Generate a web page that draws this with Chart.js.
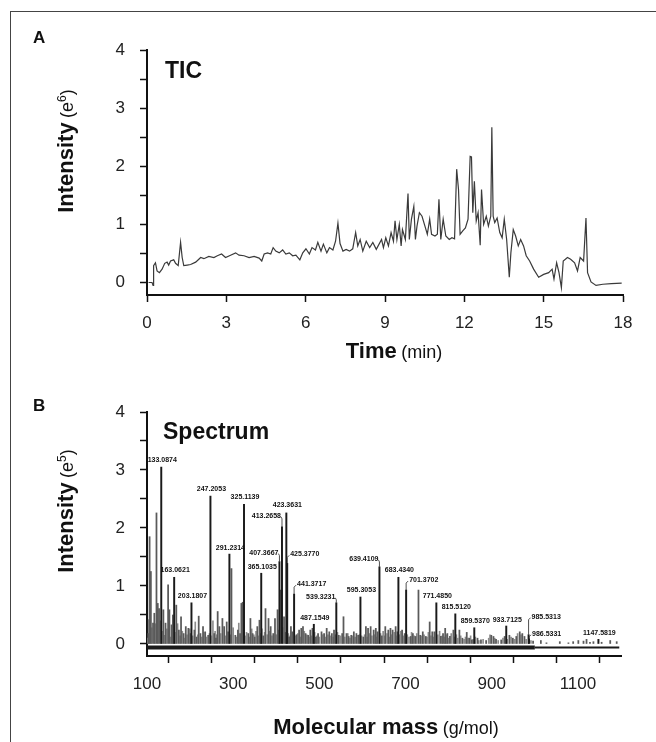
<!DOCTYPE html>
<html>
<head>
<meta charset="utf-8">
<script src="https://cdn.jsdelivr.net/npm/chart.js@4.4.0/dist/chart.umd.min.js"></script>
<style>
  html, body { margin: 0; padding: 0; background: #fff; }
  body { width: 656px; height: 742px; position: relative; overflow: hidden;
         font-family: "Liberation Sans", Arial, sans-serif; color: #111; }
  .frame { position: absolute; left: 10px; top: 11px; width: 660px; height: 740px;
           border-left: 1.5px solid #444; border-top: 1.5px solid #444; }
  canvas { position: absolute; left: 0; }
  #ticChart { top: 0; }
  #specChart { top: 370px; }
  .txt { position: absolute; white-space: nowrap; line-height: 1; }
  .panel { font-weight: bold; font-size: 17px; transform: translateY(-50%); }
  .inset { font-weight: bold; font-size: 23px; transform: translateY(-50%); }
  .xtitle { transform: translate(-50%, -50%); }
  .ytitle { transform: translate(-50%, -50%) rotate(-90deg); }
  .big { font-weight: bold; font-size: 22px; }
  .unit { font-size: 18px; }
  sup { font-size: 12px; vertical-align: 7px; }
</style>
</head>
<body>
<div class="frame"></div>
<canvas id="ticChart" width="656" height="370"></canvas>
<canvas id="specChart" width="656" height="372"></canvas>

<div class="txt panel" style="left:33px; top:37px;">A</div>
<div class="txt panel" style="left:33px; top:405px;">B</div>
<div class="txt inset" style="left:165px; top:70px;">TIC</div>
<div class="txt inset" style="left:163px; top:431px;">Spectrum</div>
<div class="txt xtitle" style="left:394px; top:351px;"><span class="big">Time</span> <span class="unit">(min)</span></div>
<div class="txt xtitle" style="left:386px; top:727px;"><span class="big">Molecular mass</span> <span class="unit">(g/mol)</span></div>
<div class="txt ytitle" style="left:66px; top:151px;"><span class="big">Intensity</span> <span class="unit">(e<sup>6</sup>)</span></div>
<div class="txt ytitle" style="left:66px; top:511px;"><span class="big">Intensity</span> <span class="unit">(e<sup>5</sup>)</span></div>

<script>
Chart.defaults.font.family = '"Liberation Sans", Arial, sans-serif';
Chart.defaults.color = '#222';

// ---- Panel A: total ion chromatogram (time in min, intensity in e6) ----
const ticTime = [
  0.06, 0.19, 0.23, 0.25, 0.32, 0.38, 0.47, 0.57, 0.67, 0.76, 0.82, 0.89, 1.01, 1.08, 1.18, 1.27, 1.33, 1.39,
  1.52, 1.65, 1.84, 1.96, 2.03, 2.15, 2.34, 2.53, 2.66, 2.82, 2.97, 3.16, 3.35, 3.48, 3.67, 3.86, 4.05, 4.24, 4.34,
  4.43, 4.56, 4.68, 4.77, 4.87, 5.00, 5.13, 5.25, 5.38, 5.51, 5.63, 5.78, 5.89, 6.01, 6.14, 6.24, 6.37, 6.46, 6.58, 6.67, 6.80, 6.90,
  7.03, 7.13, 7.22, 7.30, 7.41, 7.53, 7.66, 7.78, 7.89, 7.97, 8.06, 8.16, 8.29, 8.42, 8.54, 8.67,
  8.87, 8.94, 9.03, 9.13, 9.23, 9.32, 9.38, 9.45, 9.54, 9.61, 9.66, 9.77, 9.87, 9.92, 10.00, 10.09, 10.15,
  10.21, 10.30, 10.40, 10.51, 10.60, 10.69, 10.76, 10.89, 10.98, 11.04, 11.11, 11.20, 11.30, 11.43, 11.53, 11.63,
  11.71, 11.78, 11.84, 11.94, 12.04, 12.14, 12.22, 12.27, 12.32, 12.38, 12.45, 12.52, 12.60, 12.65, 12.73, 12.83, 12.91, 13.00, 13.04,
  13.09, 13.15, 13.24, 13.34, 13.43, 13.51, 13.60, 13.70, 13.76, 13.85, 13.94, 14.04, 14.13, 14.24, 14.34, 14.47,
  14.62, 14.81, 15.00, 15.19, 15.32, 15.39, 15.49, 15.58, 15.67, 15.74, 15.90, 16.02, 16.17, 16.28, 16.38, 16.51, 16.60, 16.66, 16.79, 16.98, 17.24, 17.56, 17.95
];
const ticIntensity = [
  0.00, 0.00, -0.05, 0.29, 0.34, 0.20, 0.17, 0.23, 0.33, 0.35, 0.30, 0.37, 0.39, 0.33, 0.29, 0.69, 0.43, 0.29,
  0.30, 0.31, 0.35, 0.40, 0.43, 0.41, 0.45, 0.43, 0.46, 0.49, 0.43, 0.47, 0.51, 0.47, 0.46, 0.43, 0.45, 0.42, 0.37,
  0.49, 0.51, 0.49, 0.60, 0.54, 0.51, 0.56, 0.49, 0.51, 0.46, 0.47, 0.39, 0.51, 0.58, 0.49, 0.60, 0.56, 0.69, 0.54, 0.66, 0.51, 0.60,
  0.56, 0.71, 1.02, 0.67, 0.54, 0.57, 0.54, 0.58, 0.86, 0.63, 0.74, 0.54, 0.71, 0.60, 0.69, 0.57,
  0.74, 0.60, 0.77, 0.63, 0.86, 0.71, 1.06, 0.74, 1.00, 0.63, 0.91, 0.74, 1.53, 0.74, 1.09, 1.31, 0.74,
  0.97, 1.20, 1.14, 0.97, 0.83, 1.09, 0.83, 0.80, 0.83, 1.43, 0.74, 1.09, 0.80, 0.74, 0.77, 0.75,
  1.95, 1.60, 0.83, 0.89, 0.94, 1.09, 2.17, 2.16, 1.20, 1.74, 1.06, 1.20, 0.64, 1.60, 1.00, 1.14, 0.97, 1.14, 2.67,
  1.14, 1.03, 1.11, 0.86, 0.77, 1.09, 0.74, 0.09, 0.51, 0.91, 0.80, 0.63, 0.74, 0.63, 0.46, 0.37,
  0.23, 0.09, 0.14, 0.17, 0.23, 0.06, 0.34, 0.17, -0.09, 0.37, 0.43, 0.40, 0.34, 0.20, 0.43, 0.37, 1.11, 0.17, 0.01, -0.05, -0.03, -0.02, -0.01
];
const timeTicks = [0, 3, 6, 9, 12, 15, 18];
const intensityTicks = [0, 0.5, 1, 1.5, 2, 2.5, 3, 3.5, 4];
const intensityLabels = [0, 1, 2, 3, 4];

// ---- Panel B: mass spectrum (m/z, intensity in e5) ----
const peakMz = [133.0874, 163.0621, 203.1807, 247.2053, 291.2314, 325.1139, 365.1035, 407.3667, 413.2658,
  423.3631, 425.3770, 441.3717, 487.1549, 539.3231, 595.3053, 639.4109, 683.4340, 701.3702, 771.4850,
  815.5120, 859.5370, 933.7125, 985.5313, 986.5331, 1147.5819];
const peakIntensity = [3.05, 1.15, 0.71, 2.55, 1.55, 2.41, 1.22, 1.42, 2.02,
  2.26, 1.39, 0.86, 0.34, 0.71, 0.81, 1.33, 1.15, 0.93, 0.71,
  0.52, 0.28, 0.31, 0.16, 0.09, 0.08];

// unlabelled sticks, darker ones
const minorMz = [103, 106, 109, 114, 117, 122, 125, 128, 138, 143, 149, 152, 157, 160, 168, 174, 179, 185, 190, 196,
  201, 210, 215, 220, 224, 230, 235, 242, 256, 260, 264, 268, 275, 279, 285, 288, 296, 305, 311, 316, 319, 322,
  335, 340, 345, 350, 356, 361, 370, 375, 382, 387, 393, 397, 403, 410, 418, 430, 434, 437, 447, 453, 458, 462,
  468, 474, 479, 484, 492, 497, 505, 511, 517, 523, 529, 534, 545, 553, 556, 563, 568, 574, 580, 586, 590, 602,
  608, 613, 619, 626, 631, 635, 645, 653, 660, 665, 670, 677, 681, 692, 698, 712, 717, 723, 730, 734, 740, 747,
  756, 762, 767, 782, 787, 792, 797, 803, 811, 825, 832, 842, 848, 854, 867, 875, 887, 899, 904, 910, 922, 930,
  941, 949, 957, 965, 971, 976, 996, 1014, 1027, 1058, 1078, 1089, 1101, 1113, 1120, 1128, 1136, 1155, 1175, 1190];
const minorIntensity = [0.18, 1.85, 1.25, 0.36, 0.53, 2.26, 0.70, 0.61, 0.59, 0.36, 1.02, 0.59, 0.33, 0.50, 0.67, 0.24, 0.47, 0.18, 0.30, 0.27,
  0.18, 0.24, 0.12, 0.48, 0.18, 0.30, 0.21, 0.15, 0.18, 0.10, 0.56, 0.30, 0.44, 0.30, 0.38, 0.21, 1.30, 0.15, 0.24, 0.18, 0.70, 0.72,
  0.18, 0.44, 0.18, 0.12, 0.30, 0.41, 0.14, 0.61, 0.44, 0.30, 0.18, 0.44, 0.59, 0.93, 0.47, 0.12, 0.30, 0.21, 0.16, 0.24, 0.27, 0.30,
  0.18, 0.15, 0.24, 0.27, 0.12, 0.18, 0.21, 0.18, 0.27, 0.21, 0.18, 0.24, 0.15, 0.18, 0.47, 0.18, 0.13, 0.15, 0.21, 0.18, 0.15, 0.12,
  0.30, 0.27, 0.30, 0.24, 0.27, 0.21, 0.14, 0.30, 0.24, 0.27, 0.24, 0.30, 0.21, 0.24, 0.18, 0.13, 0.18, 0.13, 0.93, 0.15, 0.21, 0.13,
  0.38, 0.21, 0.21, 0.13, 0.18, 0.27, 0.18, 0.13, 0.24, 0.24, 0.10, 0.20, 0.10, 0.07, 0.10, 0.07, 0.06, 0.15, 0.13, 0.08, 0.07, 0.13,
  0.15, 0.10, 0.13, 0.21, 0.18, 0.13, 0.05, 0.06, 0.02, 0.04, 0.02, 0.04, 0.06, 0.05, 0.08, 0.03, 0.04, 0.03, 0.06, 0.04];

// unlabelled sticks, pale grass near the baseline
const smallMz = [101, 104, 111, 119, 131, 135, 141, 146, 155, 165, 171, 177, 182, 188, 193, 199, 206, 212, 218, 227,
  232, 238, 245, 251, 253, 258, 262, 271, 282, 293, 300, 308, 313, 328, 331, 338, 343, 348, 353, 358,
  364, 367, 373, 379, 385, 390, 400, 406, 415, 421, 428, 432, 444, 450, 456, 465, 471, 476, 482, 489,
  494, 500, 508, 514, 520, 526, 532, 537, 542, 549, 559, 566, 571, 577, 583, 593, 598, 605, 611, 616,
  622, 628, 633, 642, 648, 651, 657, 662, 668, 674, 679, 686, 689, 695, 704, 708, 714, 720, 726, 737,
  743, 750, 753, 759, 765, 775, 779, 785, 790, 795, 800, 806, 814, 818, 821, 828, 836, 839, 845, 851,
  857, 862, 870, 880, 893, 896, 907, 915, 926, 936, 945, 953, 960, 968, 980, 991];
const smallIntensity = [0.10, 0.42, 0.28, 0.35, 0.40, 0.22, 0.15, 0.26, 0.12, 0.20, 0.35, 0.14, 0.22, 0.10, 0.16, 0.26, 0.14, 0.38, 0.16, 0.12,
  0.20, 0.12, 0.18, 0.14, 0.40, 0.22, 0.16, 0.18, 0.14, 0.16, 0.28, 0.12, 0.36, 0.14, 0.20, 0.12, 0.26, 0.16, 0.22, 0.14,
  0.18, 0.26, 0.20, 0.16, 0.22, 0.14, 0.16, 0.24, 0.28, 0.20, 0.18, 0.14, 0.14, 0.18, 0.12, 0.22, 0.16, 0.12, 0.14, 0.20,
  0.14, 0.12, 0.16, 0.12, 0.16, 0.14, 0.12, 0.16, 0.20, 0.14, 0.12, 0.18, 0.10, 0.14, 0.12, 0.16, 0.14, 0.16, 0.12, 0.18,
  0.14, 0.16, 0.12, 0.18, 0.22, 0.14, 0.18, 0.12, 0.16, 0.20, 0.14, 0.16, 0.22, 0.14, 0.16, 0.12, 0.20, 0.14, 0.18, 0.14,
  0.16, 0.12, 0.20, 0.14, 0.12, 0.16, 0.22, 0.14, 0.12, 0.16, 0.10, 0.18, 0.12, 0.16, 0.10, 0.14, 0.08, 0.12, 0.10, 0.14,
  0.08, 0.12, 0.06, 0.08, 0.10, 0.16, 0.10, 0.06, 0.10, 0.08, 0.12, 0.08, 0.18, 0.16, 0.08, 0.06];

const bandMz = [100, 1000];
const bandTailMz = [1000, 1196];
const bandLevel = -0.06;
const massTicks = [100, 200, 300, 400, 500, 600, 700, 800, 900, 1000, 1100, 1200];
const massLabels = [100, 300, 500, 700, 900, 1100];

// where each peak label sits relative to its stick: c = centred, l = left of it, r = right of it
const labelSide = ['c', 'c', 'c', 'c', 'c', 'c', 'c', 'l', 'l', 'c', 'r', 'r', 'c', 'l', 'c', 'l', 'c', 'r', 'c', 'c', 'c', 'c', 'r', 'r', 'c'];
const labelLift = [5, 5, 5, 5, 4, 5, 4, 7, 9, 6, 7, 8, 4, 4, 5, 6, 5, 8, 5, 5, 5, 4, 16, 3, 4];

// shared axis look
function axisBase() {
  return {
    type: 'linear',
    border: {display: true, color: '#111', width: 2},
    grid: {drawOnChartArea: false, drawTicks: true, tickLength: 7, tickColor: '#111', tickWidth: 1.5},
  };
}

function setTicks(values) {
  return (scale) => { scale.ticks = values.map(v => ({value: v})); };
}

// Panel A
new Chart(document.getElementById('ticChart'), {
  type: 'line',
  data: {
    datasets: [{
      data: ticTime.map((t, i) => ({x: t, y: ticIntensity[i]})),
      borderColor: '#3a3a3a',
      borderWidth: 1.2,
      pointRadius: 0,
      tension: 0,
    }]
  },
  options: {
    responsive: false,
    animation: false,
    layout: {padding: {top: 50, right: 33, left: 0, bottom: 0}},
    plugins: {legend: {display: false}, tooltip: {enabled: false}},
    scales: {
      x: Object.assign(axisBase(), {
        min: 0, max: 18,
        afterBuildTicks: setTicks(timeTicks),
        afterFit: (s) => { s.height = 75; },
        ticks: {font: {size: 17}, padding: 11, maxRotation: 0, autoSkip: false},
      }),
      y: Object.assign(axisBase(), {
        min: -0.215, max: 4,
        afterBuildTicks: setTicks(intensityTicks),
        afterFit: (s) => { s.width = 147; },
        ticks: {
          font: {size: 17}, padding: 15, autoSkip: false,
          callback: (v) => intensityLabels.includes(v) ? String(v) : '',
        },
      }),
    }
  }
});

// Peak annotation plugin for the spectrum
const peakLabels = {
  id: 'peakLabels',
  afterDatasetsDraw(chart) {
    const {ctx, scales: {x, y}} = chart;
    ctx.save();
    ctx.font = 'bold 7px "Liberation Sans Narrow", "Liberation Sans", sans-serif';
    ctx.fillStyle = '#111';
    ctx.strokeStyle = '#222';
    ctx.lineWidth = 0.8;
    ctx.textBaseline = 'middle';
    peakMz.forEach((mz, i) => {
      const px = x.getPixelForValue(mz);
      const tip = y.getPixelForValue(peakIntensity[i]);
      const ly = tip - labelLift[i] - 2;
      const text = mz.toFixed(4);
      const side = labelSide[i];
      if (side === 'c') {
        ctx.textAlign = 'center';
        ctx.fillText(text, px + 1, ly);
      } else if (side === 'l') {
        ctx.textAlign = 'right';
        ctx.fillText(text, px - 1, ly);
        ctx.beginPath();
        ctx.moveTo(px - 1, ly + 1);
        ctx.lineTo(px, ly + 3);
        ctx.lineTo(px, tip);
        ctx.stroke();
      } else {
        ctx.textAlign = 'left';
        ctx.fillText(text, px + 3, ly);
        ctx.beginPath();
        ctx.moveTo(px, tip);
        ctx.lineTo(px, ly + 3);
        ctx.lineTo(px + 2, ly + 1);
        ctx.stroke();
      }
    });
    ctx.restore();
  }
};

// Panel B
new Chart(document.getElementById('specChart'), {
  type: 'bar',
  data: {
    datasets: [
      {
        type: 'line',
        data: bandMz.map(m => ({x: m, y: bandLevel})),
        borderColor: '#1a1a1a', borderWidth: 4, pointRadius: 0, order: 4,
      },
      {
        type: 'line',
        data: bandTailMz.map(m => ({x: m, y: bandLevel})),
        borderColor: '#1a1a1a', borderWidth: 2, pointRadius: 0, order: 4,
      },
      {
        data: smallMz.map((m, i) => ({x: m, y: smallIntensity[i]})),
        backgroundColor: '#8c8c8c', barThickness: 1, grouped: false, order: 3,
      },
      {
        data: minorMz.map((m, i) => ({x: m, y: minorIntensity[i]})),
        backgroundColor: '#5a5a5a', barThickness: 1.1, grouped: false, order: 2,
      },
      {
        data: peakMz.map((m, i) => ({x: m, y: peakIntensity[i]})),
        backgroundColor: '#1a1a1a', barThickness: 1.3, grouped: false, order: 1,
      },
    ]
  },
  options: {
    responsive: false,
    animation: false,
    layout: {padding: {top: 42, right: 35, left: 0, bottom: 0}},
    plugins: {legend: {display: false}, tooltip: {enabled: false}},
    scales: {
      x: Object.assign(axisBase(), {
        min: 100, max: 1200, offset: false,
        afterBuildTicks: setTicks(massTicks),
        afterFit: (s) => { s.height = 86; },
        ticks: {
          font: {size: 17}, padding: 11, maxRotation: 0, autoSkip: false,
          callback: (v) => massLabels.includes(v) ? String(v) : '',
        },
      }),
      y: Object.assign(axisBase(), {
        min: -0.207, max: 4,
        afterBuildTicks: setTicks(intensityTicks),
        afterFit: (s) => { s.width = 147; },
        ticks: {
          font: {size: 17}, padding: 15, autoSkip: false,
          callback: (v) => intensityLabels.includes(v) ? String(v) : '',
        },
      }),
    }
  },
  plugins: [peakLabels]
});
</script>
</body>
</html>
